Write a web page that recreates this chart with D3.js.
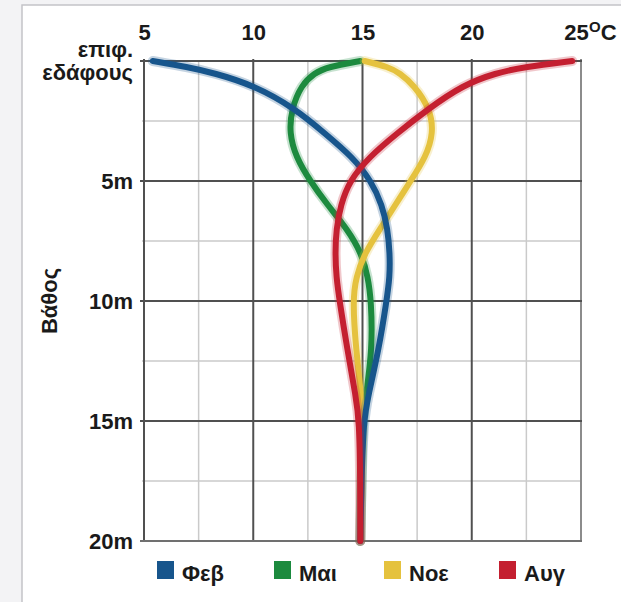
<!DOCTYPE html>
<html><head><meta charset="utf-8">
<script src="https://cdn.jsdelivr.net/npm/d3@7"></script>
<style>
html,body{margin:0;padding:0;background:#f3f3f5;}
svg{display:block;}
text{font-family:"Liberation Sans",Arial,sans-serif;fill:#1a1a1a;}
</style></head><body>
<svg id="c" width="621" height="602"></svg>
<script>
// ---- data ----
const depths = [0, 0.25, 0.5, 1, 2, 3, 4, 5, 6, 7, 8, 9, 10, 12, 14, 15, 17.5, 20];
const feb = [5.4, 7.0, 8.2, 10.0, 11.95, 13.25, 14.55, 15.4, 15.9, 16.15, 16.25, 16.25, 16.1, 15.75, 15.25, 15.05, 14.95, 14.9];
const may = [14.9, 13.4, 12.8, 12.2, 11.75, 11.65, 11.95, 12.6, 13.4, 14.3, 14.95, 15.25, 15.4, 15.45, 15.15, 15.0, 14.95, 14.9];
const nov = [15.1, 16.2, 16.7, 17.35, 18.1, 18.25, 17.9, 17.2, 16.5, 15.8, 15.1, 14.7, 14.55, 14.7, 14.95, 15.0, 14.95, 14.9];
const aug = [24.6, 22.4, 21.1, 19.6, 18.0, 16.6, 15.3, 14.4, 14.0, 13.8, 13.75, 13.8, 13.95, 14.3, 14.7, 14.85, 14.9, 14.9];
const seriesNames = ["Φεβ", "Μαι", "Νοε", "Αυγ"];
const seriesColors = ["#17558c", "#1c8a3e", "#e5c23e", "#c41f30"];
const tempTicks = [5, 10, 15, 20, 25];
const tempMinor = [7.5, 12.5, 17.5, 22.5];
const depthTicks = [0, 5, 10, 15, 20];
const depthMinor = [2.5, 7.5, 12.5, 17.5];
const depthLabels = [["επιφ.", "εδάφους"], ["5m"], ["10m"], ["15m"], ["20m"]];
const unitLabel = ["O", "C"];
const axisTitle = "Βάθος";

// ---- layout ----
const svg = d3.select("#c");
const X0 = 144, X1 = 581, Y0 = 61, Y1 = 541;
const x = d3.scaleLinear().domain([5, 25]).range([X0, X1]);
const y = d3.scaleLinear().domain([0, 20]).range([Y0, Y1]);

// frame
svg.append("rect").attr("x", 22).attr("y", 5).attr("width", 640).attr("height", 640)
  .attr("fill", "#ffffff").attr("stroke", "#c4c4c8").attr("stroke-width", 1.5);

const g = svg.append("g");
// minor grid
g.selectAll(".mx").data(tempMinor).join("line")
  .attr("x1", d => x(d)).attr("x2", d => x(d)).attr("y1", Y0).attr("y2", Y1)
  .attr("stroke", "#cacaca").attr("stroke-width", 1.5);
g.selectAll(".my").data(depthMinor).join("line")
  .attr("y1", d => y(d)).attr("y2", d => y(d)).attr("x1", X0 - 2).attr("x2", X1)
  .attr("stroke", "#cacaca").attr("stroke-width", 1.5);
// major grid
g.selectAll(".Mx").data(tempTicks).join("line")
  .attr("x1", d => x(d)).attr("x2", d => x(d)).attr("y1", Y0 - 2).attr("y2", Y1 + 1)
  .attr("stroke", d => (d === 25 ? "#8c8c8c" : "#505050")).attr("stroke-width", 2);
g.selectAll(".My").data(depthTicks).join("line")
  .attr("y1", d => y(d)).attr("y2", d => y(d)).attr("x1", X0 - 4).attr("x2", X1 + 1)
  .attr("stroke", d => (d === 20 ? "#707070" : "#505050")).attr("stroke-width", 2);

// top axis labels
const xa = svg.append("g").attr("transform", `translate(0,${Y0})`)
  .call(d3.axisTop(x).tickValues(tempTicks).tickSize(0).tickPadding(0));
xa.select(".domain").remove();
xa.selectAll("text").attr("y", -21).attr("dy", 0)
  .style("font-size", "22px").style("font-weight", "bold").attr("fill", "#1a1a1a")
  .style("font-family", '"Liberation Sans", Arial, sans-serif');
xa.selectAll(".tick").filter(d => d === 25).select("text").attr("dx", -5);
const unit = svg.append("text").attr("x", x(25) + 8).attr("y", Y0 - 21)
  .style("font-size", "22px").style("font-weight", "bold");
unit.append("tspan").text(unitLabel[0]).style("font-size", "15px").attr("dy", -8);
unit.append("tspan").text(unitLabel[1]).attr("dy", 8);

// left labels
const ya = svg.append("g").attr("transform", `translate(${X0},0)`)
  .call(d3.axisLeft(y).tickValues(depthTicks).tickSize(0).tickPadding(0).tickFormat(""));
ya.select(".domain").remove();
ya.selectAll(".tick").each(function (d, i) {
  const lines = depthLabels[i];
  const t = d3.select(this).append("text").attr("text-anchor", "end").attr("x", -11)
    .style("font-size", "22px").style("font-weight", "bold").attr("fill", "#1a1a1a")
    .style("font-family", '"Liberation Sans", Arial, sans-serif');
  if (lines.length === 1) {
    t.attr("y", 7).text(lines[0]);
  } else {
    t.append("tspan").attr("x", -11).attr("y", -5).text(lines[0]);
    t.append("tspan").attr("x", -11).attr("y", 18).text(lines[1]);
  }
});

svg.append("text").attr("transform", `translate(57,${(Y0 + Y1) / 2}) rotate(-90)`)
  .attr("text-anchor", "middle").style("font-size", "22px").style("font-weight", "bold")
  .text(axisTitle);

// curves
const allSeries = [may, nov, feb, aug];
const order = [1, 2, 0, 3];
const line = d3.line().x(d => x(d[0])).y(d => y(d[1])).curve(d3.curveBasis);
order.forEach((si, k) => {
  const vals = allSeries[k];
  const pts = vals.map((v, i) => [v, depths[i]]);
  svg.append("path").attr("d", line(pts)).attr("fill", "none")
    .attr("stroke", seriesColors[si]).attr("stroke-opacity", 0.25).attr("stroke-width", 10)
    .attr("stroke-linecap", "round").attr("stroke-linejoin", "round");
  svg.append("path").attr("d", line(pts)).attr("fill", "none")
    .attr("stroke", seriesColors[si]).attr("stroke-width", 6)
    .attr("stroke-linecap", "round").attr("stroke-linejoin", "round");
});

// legend
const legX = [157, 274, 384, 499];
const leg = svg.append("g");
seriesNames.forEach((n, i) => {
  leg.append("rect").attr("x", legX[i]).attr("y", 561).attr("width", 17).attr("height", 18)
    .attr("fill", seriesColors[i]);
  leg.append("text").attr("x", legX[i] + 25).attr("y", 581).text(n)
    .style("font-size", "22px").style("font-weight", "bold");
});
</script>
</body></html>
